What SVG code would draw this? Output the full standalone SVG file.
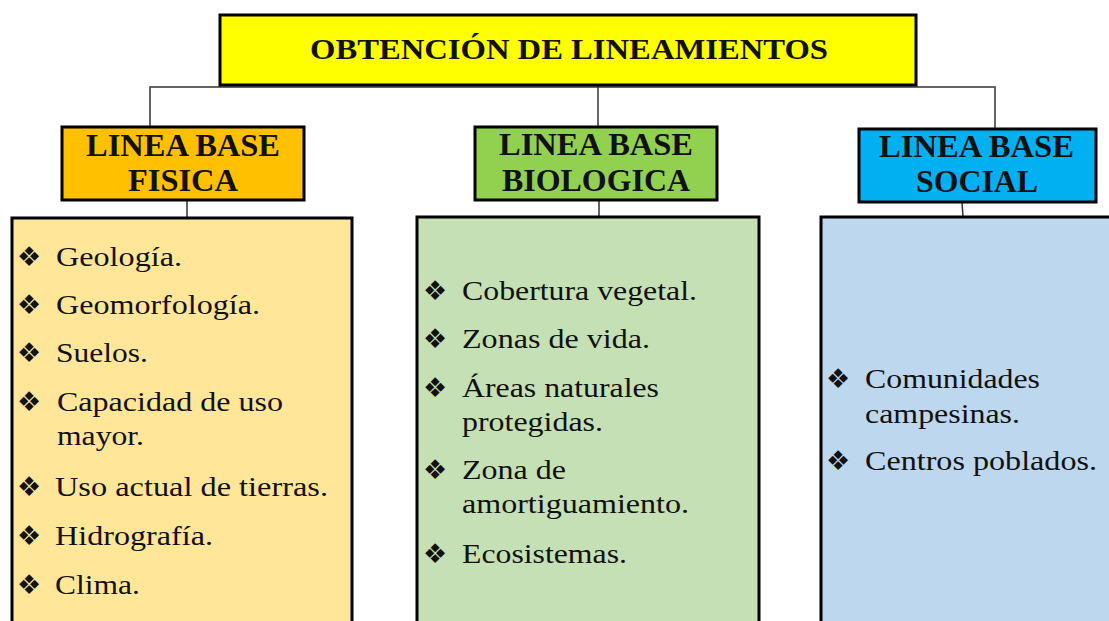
<svg xmlns="http://www.w3.org/2000/svg" width="1109" height="621" viewBox="0 0 1109 621">
<style>
.box{stroke:#000;stroke-width:3}
.t{font-family:"Liberation Serif","Times New Roman",serif;fill:#111}
.h{font-weight:bold;font-size:31px}
.ti{font-weight:bold;font-size:30px}
.c{font-size:27px}
.b{font-family:"DejaVu Sans",sans-serif;font-size:27px;fill:#111}
.conn{stroke:#333;stroke-width:1.5;fill:none}
</style>
<rect width="1109" height="621" fill="#fff"/>
<g id="connectors">
<path class="conn" d="M150,128 V87 H995 V132"/>
<path class="conn" d="M598,85 V128"/>
<path class="conn" d="M187,200 V218"/>
<path class="conn" d="M599,200 V217"/>
<path class="conn" d="M962,202 L963,217"/>
</g>
<g id="title">
<rect class="box" x="220" y="15" width="696" height="70" fill="#FFFF00"/>
<text class="t ti" x="310" y="59" textLength="518" lengthAdjust="spacingAndGlyphs">OBTENCIÓN DE LINEAMIENTOS</text>
</g>
<g id="fisica">
<rect class="box" x="62" y="127" width="242" height="73" fill="#FFC000"/>
<text class="t h" x="86" y="156" textLength="194" lengthAdjust="spacingAndGlyphs">LINEA BASE</text>
<text class="t h" x="128" y="191" textLength="110" lengthAdjust="spacingAndGlyphs">FISICA</text>
</g>
<g id="biologica">
<rect class="box" x="475" y="127" width="242" height="73" fill="#92D050"/>
<text class="t h" x="499" y="155" textLength="194" lengthAdjust="spacingAndGlyphs">LINEA BASE</text>
<text class="t h" x="502" y="191" textLength="188" lengthAdjust="spacingAndGlyphs">BIOLOGICA</text>
</g>
<g id="social">
<rect class="box" x="859" y="129" width="237" height="73" fill="#00B0F0"/>
<text class="t h" x="879" y="157" textLength="195" lengthAdjust="spacingAndGlyphs">LINEA BASE</text>
<text class="t h" x="916" y="192" textLength="122" lengthAdjust="spacingAndGlyphs">SOCIAL</text>
</g>
<g id="fisica-list">
<rect class="box" x="12" y="218" width="340" height="420" fill="#FFE699"/>
<text class="b" x="17" y="266">❖</text>
<text class="t c" x="56" y="266" textLength="126" lengthAdjust="spacingAndGlyphs">Geología.</text>
<text class="b" x="17" y="314">❖</text>
<text class="t c" x="56" y="314" textLength="204" lengthAdjust="spacingAndGlyphs">Geomorfología.</text>
<text class="b" x="17" y="362">❖</text>
<text class="t c" x="56" y="362" textLength="92" lengthAdjust="spacingAndGlyphs">Suelos.</text>
<text class="b" x="17" y="411">❖</text>
<text class="t c" x="57" y="411" textLength="226" lengthAdjust="spacingAndGlyphs">Capacidad de uso</text>
<text class="t c" x="57" y="445" textLength="87" lengthAdjust="spacingAndGlyphs">mayor.</text>
<text class="b" x="17" y="496">❖</text>
<text class="t c" x="55" y="496" textLength="273" lengthAdjust="spacingAndGlyphs">Uso actual de tierras.</text>
<text class="b" x="17" y="545">❖</text>
<text class="t c" x="55" y="545" textLength="158" lengthAdjust="spacingAndGlyphs">Hidrografía.</text>
<text class="b" x="17" y="594">❖</text>
<text class="t c" x="55" y="594" textLength="85" lengthAdjust="spacingAndGlyphs">Clima.</text>
</g>
<g id="biologica-list">
<rect class="box" x="417" y="217" width="342" height="420" fill="#C5E0B4"/>
<text class="b" x="423" y="300">❖</text>
<text class="t c" x="462" y="300" textLength="235" lengthAdjust="spacingAndGlyphs">Cobertura vegetal.</text>
<text class="b" x="423" y="348">❖</text>
<text class="t c" x="462" y="348" textLength="188" lengthAdjust="spacingAndGlyphs">Zonas de vida.</text>
<text class="b" x="423" y="397">❖</text>
<text class="t c" x="462" y="397" textLength="197" lengthAdjust="spacingAndGlyphs">Áreas naturales</text>
<text class="t c" x="462" y="431" textLength="141" lengthAdjust="spacingAndGlyphs">protegidas.</text>
<text class="b" x="423" y="479">❖</text>
<text class="t c" x="462" y="479" textLength="104" lengthAdjust="spacingAndGlyphs">Zona de</text>
<text class="t c" x="462" y="513" textLength="227" lengthAdjust="spacingAndGlyphs">amortiguamiento.</text>
<text class="b" x="423" y="563">❖</text>
<text class="t c" x="462" y="563" textLength="165" lengthAdjust="spacingAndGlyphs">Ecosistemas.</text>
</g>
<g id="social-list">
<rect class="box" x="821" y="217" width="300" height="420" fill="#BDD7EE"/>
<text class="b" x="826" y="388">❖</text>
<text class="t c" x="865" y="388" textLength="175" lengthAdjust="spacingAndGlyphs">Comunidades</text>
<text class="t c" x="865" y="423" textLength="155" lengthAdjust="spacingAndGlyphs">campesinas.</text>
<text class="b" x="826" y="470">❖</text>
<text class="t c" x="865" y="470" textLength="232" lengthAdjust="spacingAndGlyphs">Centros poblados.</text>
</g>
</svg>
